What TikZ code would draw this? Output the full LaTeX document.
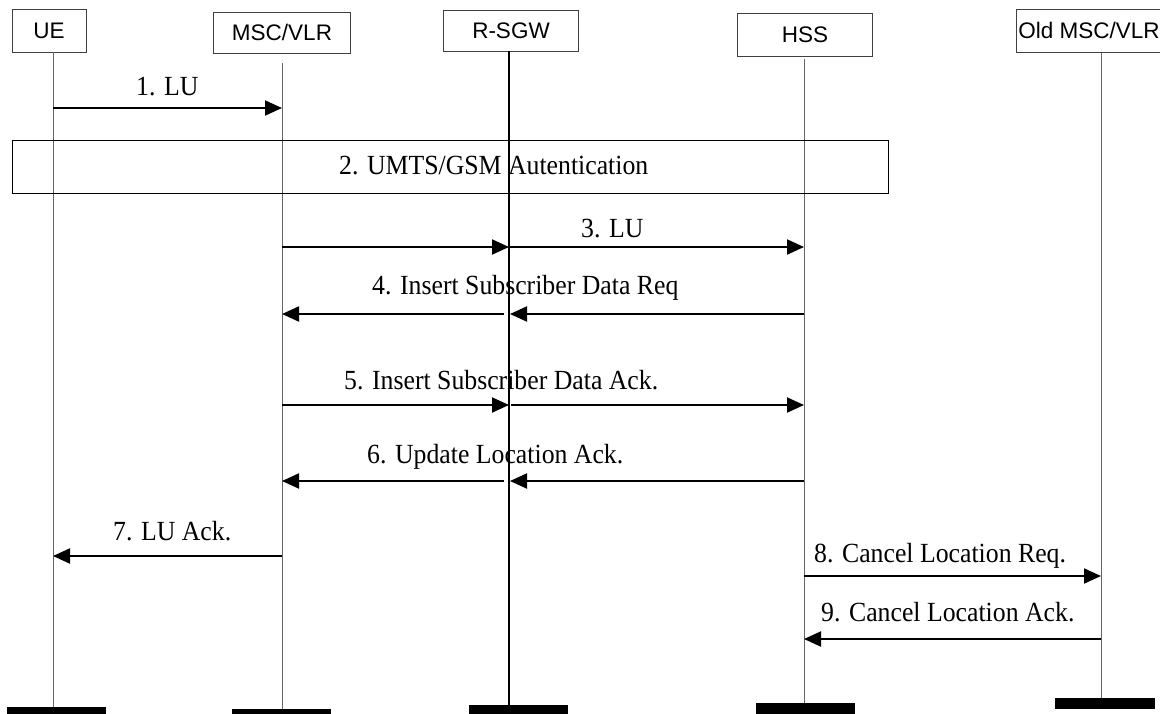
\documentclass[tikz,border=0pt]{standalone}
\usepackage{fontspec}
\setmainfont{Liberation Serif}[FakeStretch=0.93]
\newfontfamily\hdrfont{Liberation Sans}
\usetikzlibrary{arrows.meta}
\tikzstyle{entity} = [draw=black!75, line width=0.8pt, inner sep=0pt, font=\hdrfont\fontsize{22.5pt}{24pt}\selectfont]
\tikzstyle{life} = [draw=black!60, line width=1pt]
\tikzstyle{msg} = [draw, -{Triangle[length=17pt,width=15pt]}, line width=2pt]
\tikzstyle{lbl} = [anchor=base west, inner sep=0pt, font=\fontsize{27.7pt}{30pt}\selectfont]
\tikzstyle{bar} = [fill=black, inner sep=0pt, minimum width=99pt, minimum height=11pt]

\begin{document}
\begin{tikzpicture}[x=1pt, y=-1pt]
\useasboundingbox (0,0) rectangle (1160,713);

% entities
\node[entity, minimum width=74pt, minimum height=43pt] at (49,30.5) (ue) {UE};
\node[entity, minimum width=137pt, minimum height=41pt] at (282,32.5) (msc) {MSC/VLR};
\node[entity, minimum width=135pt, minimum height=41pt] at (511,30.5) (rsgw) {R-SGW};
\node[entity, minimum width=135pt, minimum height=43pt] at (805,34.5) (hss) {HSS};
\node[entity, minimum width=146pt, minimum height=43pt] at (1089,30.5) (old) {Old MSC/VLR};

% end bars
\node[bar] at (56.5,712.5) (ueBar) {};
\node[bar] at (281.5,714.5) (mscBar) {};
\node[bar] at (518.5,710.5) (rsgwBar) {};
\node[bar] at (805.5,708.5) (hssBar) {};
\node[bar, minimum width=100pt] at (1105,703.5) (oldBar) {};

% lifelines
\coordinate (ueTop) at (53,52);
\coordinate (mscTop) at (282,63);
\coordinate (rsgwTop) at (509,51);
\coordinate (hssTop) at (804,59);
\coordinate (oldTop) at (1101,53);
\path [life] (ueTop) -- (ueBar.north -| ueTop);
\path [life] (mscTop) -- (mscBar.north -| mscTop);
\path [life, draw=black, line width=2pt] (rsgwTop) -- (rsgwBar.north -| rsgwTop);
\path [life] (hssTop) -- (hssBar.north -| hssTop);
\path [life] (oldTop) -- (oldBar.north -| oldTop);

% message rows
\coordinate (m1) at (0,108);
\coordinate (m3) at (0,247);
\coordinate (m4) at (0,314);
\coordinate (m5) at (0,405);
\coordinate (m6) at (0,481);
\coordinate (m7) at (0,556);
\coordinate (m8) at (0,576);
\coordinate (m9) at (0,639);

% 1
\path [msg] (ueTop |- m1) -- (mscTop |- m1);
\node[lbl] at (136,95) (l1) {1. LU};

% 2
\node[draw, line width=1pt, minimum width=876pt, minimum height=53pt, inner sep=0pt] at (450,166.5) (auth) {};
\node[lbl] at (339,174) (l2) {2. UMTS/GSM Autentication};

% 3
\path [msg] (mscTop |- m3) -- (rsgwTop |- m3);
\path [msg] ([xshift=1pt]rsgwTop |- m3) -- (hssTop |- m3);
\node[lbl] at (581,237) (l3) {3. LU};

% 4
\path [msg] (hssTop |- m4) -- ([xshift=1pt]rsgwTop |- m4);
\path [msg] ([xshift=-5pt]rsgwTop |- m4) -- (mscTop |- m4);
\node[lbl] at (372,294) (l4) {4. Insert Subscriber Data Req};

% 5
\path [msg] (mscTop |- m5) -- (rsgwTop |- m5);
\path [msg] ([xshift=2pt]rsgwTop |- m5) -- (hssTop |- m5);
\node[lbl] at (344,389) (l5) {5. Insert Subscriber Data Ack.};

% 6
\path [msg] (hssTop |- m6) -- ([xshift=1pt]rsgwTop |- m6);
\path [msg] ([xshift=-5pt]rsgwTop |- m6) -- (mscTop |- m6);
\node[lbl] at (367,463) (l6) {6. Update Location Ack.};

% 7
\path [msg] (mscTop |- m7) -- (ueTop |- m7);
\node[lbl] at (113,540) (l7) {7. LU Ack.};

% 8
\path [msg] (hssTop |- m8) -- (oldTop |- m8);
\node[lbl] at (814,562) (l8) {8. Cancel Location Req.};

% 9
\path [msg] (oldTop |- m9) -- (hssTop |- m9);
\node[lbl] at (821,621) (l9) {9. Cancel Location Ack.};
\end{tikzpicture}
\end{document}
